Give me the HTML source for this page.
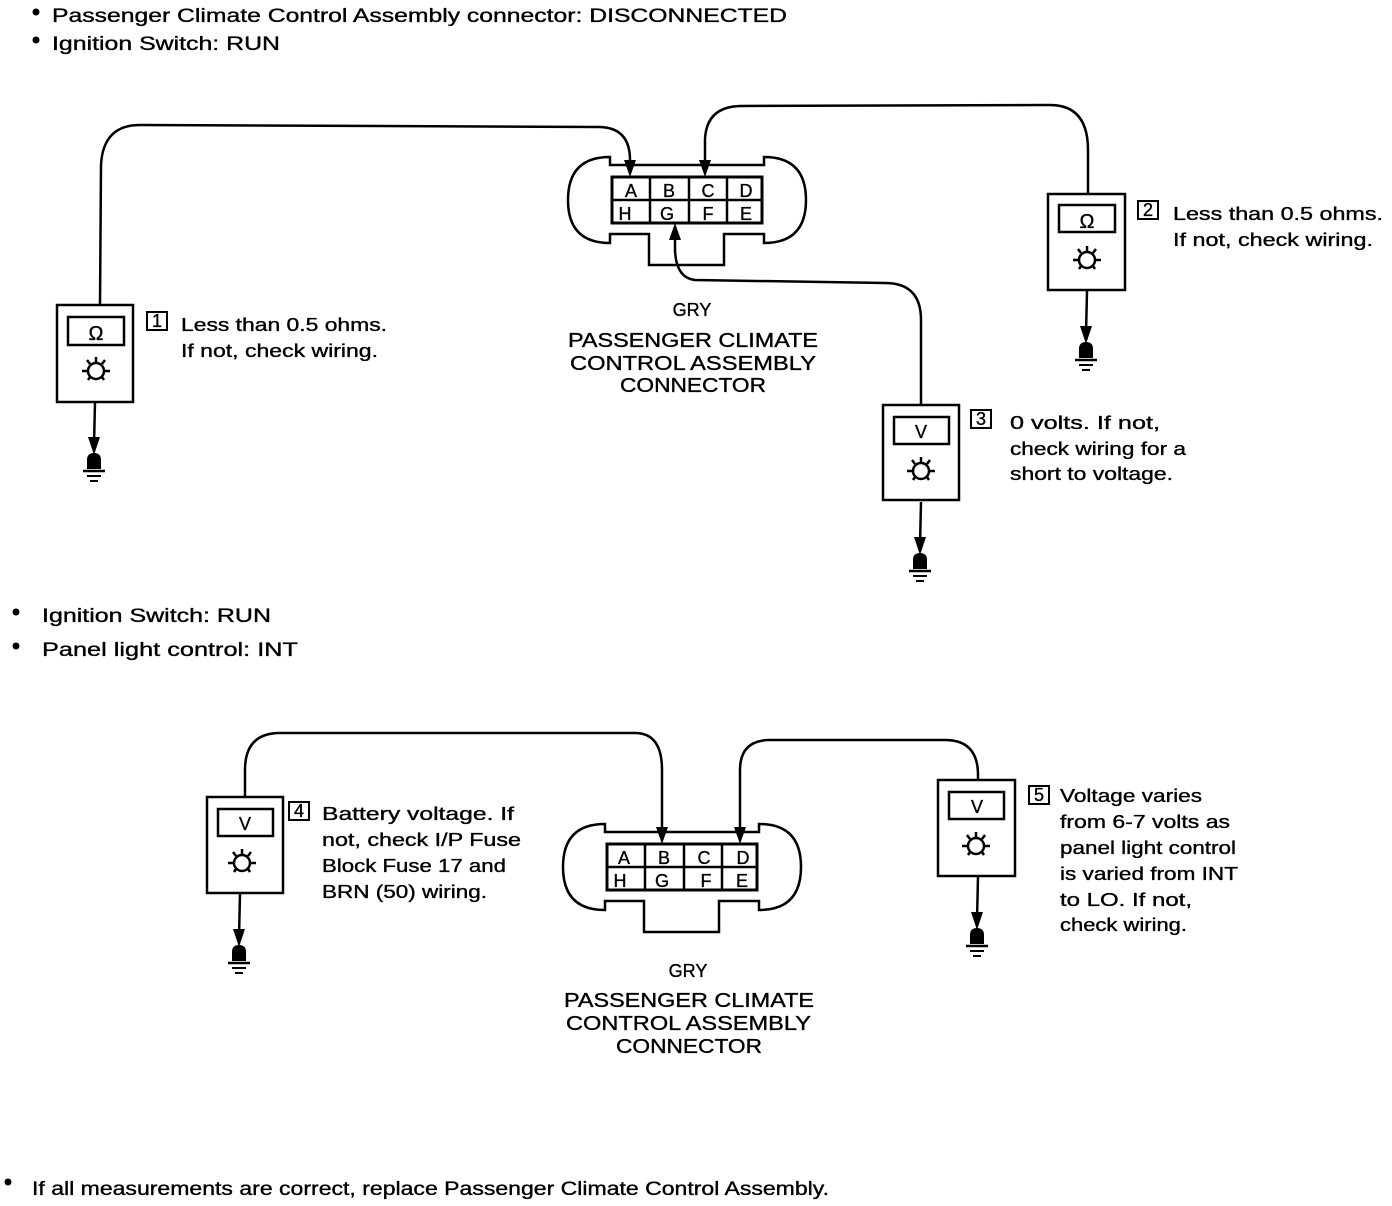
<!DOCTYPE html>
<html><head><meta charset="utf-8"><style>
html,body{margin:0;padding:0;background:#fff;}
svg{display:block;}
text{font-family:"Liberation Sans",sans-serif;font-size:18px;fill:#000;stroke:#000;stroke-width:0.35;}
</style></head><body>
<svg width="1392" height="1206" viewBox="0 0 1392 1206" xmlns="http://www.w3.org/2000/svg">
<defs>
<g id="bulb" fill="none" stroke="#000" stroke-width="2.5">
<circle cx="38" cy="66" r="8"/>
<line x1="24" y1="66" x2="30" y2="66"/><line x1="46" y1="66" x2="52" y2="66"/>
<line x1="38" y1="52" x2="38" y2="57"/><line x1="29" y1="55" x2="32" y2="59"/><line x1="47" y1="55" x2="44" y2="59"/>
<line x1="30" y1="75" x2="32" y2="72"/><line x1="46" y1="75" x2="44" y2="72"/>
</g>
<g id="gnd">
<line x1="38" y1="97" x2="37" y2="140" stroke="#000" stroke-width="2.5"/>
<path d="M31 132 L43 132 L37 150 Z" fill="#000"/>
<path d="M30 164 L30 155 Q30 148 37 148 Q44 148 44 155 L44 164 Z" fill="#000"/>
<line x1="26" y1="166" x2="48" y2="166" stroke="#000" stroke-width="2.5"/>
<line x1="30" y1="171" x2="44" y2="171" stroke="#000" stroke-width="2"/>
<line x1="33" y1="176" x2="41" y2="176" stroke="#000" stroke-width="2"/>
</g>
<g id="conn" fill="none" stroke="#000" stroke-width="2.5">
<path d="M0 -12 L150 -12"/>
<path d="M0 -12 L-2 -12 L-2 -20 Q-44 -20 -44 23 Q-44 66 -2 66 L-2 57 L37 57 L37 88 L112 88 L112 57 L152 57 L152 66 Q194 66 194 23 Q194 -20 152 -20 L152 -12 L150 -12"/>
<rect x="0" y="0" width="150" height="46" stroke-width="3"/>
<line x1="0" y1="23" x2="150" y2="23"/>
<line x1="38" y1="0" x2="38" y2="46"/><line x1="77" y1="0" x2="77" y2="46"/><line x1="115" y1="0" x2="115" y2="46"/>
</g>
</defs>

<g lengthAdjust="spacingAndGlyphs">
<circle cx="36" cy="12" r="3.5"/><text x="52" y="22" textLength="735" lengthAdjust="spacingAndGlyphs" style="font-size:19px">Passenger Climate Control Assembly connector: DISCONNECTED</text>
<circle cx="36" cy="40" r="3.5"/><text x="52" y="50" textLength="228" lengthAdjust="spacingAndGlyphs" style="font-size:19px">Ignition Switch: RUN</text>
<circle cx="16" cy="612" r="3.5"/><text x="42" y="622" textLength="229" lengthAdjust="spacingAndGlyphs" style="font-size:19px">Ignition Switch: RUN</text>
<circle cx="16" cy="646" r="3.5"/><text x="42" y="656" textLength="256" lengthAdjust="spacingAndGlyphs" style="font-size:19px">Panel light control: INT</text>
<circle cx="8" cy="1182" r="3.5"/><text x="32" y="1195" textLength="797" lengthAdjust="spacingAndGlyphs" style="font-size:19px">If all measurements are correct, replace Passenger Climate Control Assembly.</text>
</g>

<g transform="translate(612,177)"><use href="#conn"/></g>
<g text-anchor="middle">
<text x="631" y="197" font-size="15">A</text><text x="669" y="197" font-size="15">B</text><text x="708" y="197" font-size="15">C</text><text x="746" y="197" font-size="15">D</text>
<text x="625" y="220" font-size="15">H</text><text x="667" y="220" font-size="15">G</text><text x="708" y="220" font-size="15">F</text><text x="746" y="220" font-size="15">E</text>
</g>
<text x="692" y="316" font-size="14" text-anchor="middle">GRY</text>
<text x="568" y="347" textLength="250" lengthAdjust="spacingAndGlyphs" style="font-size:20px">PASSENGER CLIMATE</text>
<text x="570" y="370" textLength="246" lengthAdjust="spacingAndGlyphs" style="font-size:20px">CONTROL ASSEMBLY</text>
<text x="620" y="392" textLength="146" lengthAdjust="spacingAndGlyphs" style="font-size:20px">CONNECTOR</text>

<g transform="translate(607,844)"><use href="#conn"/></g>
<g text-anchor="middle">
<text x="624" y="864" font-size="15">A</text><text x="664" y="864" font-size="15">B</text><text x="704" y="864" font-size="15">C</text><text x="743" y="864" font-size="15">D</text>
<text x="620" y="887" font-size="15">H</text><text x="662" y="887" font-size="15">G</text><text x="706" y="887" font-size="15">F</text><text x="742" y="887" font-size="15">E</text>
</g>
<text x="688" y="977" font-size="14" text-anchor="middle">GRY</text>
<text x="564" y="1007" textLength="250" lengthAdjust="spacingAndGlyphs" style="font-size:20px">PASSENGER CLIMATE</text>
<text x="566" y="1030" textLength="245" lengthAdjust="spacingAndGlyphs" style="font-size:20px">CONTROL ASSEMBLY</text>
<text x="616" y="1053" textLength="146" lengthAdjust="spacingAndGlyphs" style="font-size:20px">CONNECTOR</text>

<g fill="none" stroke="#000" stroke-width="2.5">
<path d="M100 305 L101 165 Q103 125 140 125 L600 127 Q630 128 630 160 L630 165"/>
<path d="M1088 194 L1088 150 Q1088 105 1050 105 L740 106 Q706 107 705 140 L705 165"/>
<path d="M921 405 L921 320 Q921 283 885 283 L695 280 Q676 278 675 250 L675 235"/>
<path d="M245 797 L245 770 Q245 733 280 733 L635 733 Q662 733 662 770 L662 832"/>
<path d="M978 780 L978 775 Q978 740 945 740 L770 740 Q740 740 740 770 L740 832"/>
</g>
<g fill="#000">
<path d="M624 160 L636 160 L630 177 Z"/>
<path d="M699 160 L711 160 L705 177 Z"/>
<path d="M669 240 L681 240 L675 223 Z"/>
<path d="M656 827 L668 827 L662 844 Z"/>
<path d="M734 827 L746 827 L740 844 Z"/>
</g>

<g fill="none" stroke="#000" stroke-width="2.5">
<rect x="57" y="305" width="76" height="97"/><rect x="68" y="317" width="56" height="28"/>
<rect x="1048" y="194" width="77" height="96"/><rect x="1059" y="205" width="56" height="27"/>
<rect x="883" y="405" width="76" height="95"/><rect x="894" y="417" width="55" height="27"/>
<rect x="207" y="797" width="76" height="96"/><rect x="218" y="809" width="55" height="27"/>
<rect x="938" y="780" width="77" height="96"/><rect x="949" y="792" width="55" height="27"/>
</g>
<use href="#bulb" transform="translate(58,305)"/><use href="#gnd" transform="translate(57,305)"/>
<use href="#bulb" transform="translate(1049,194)"/><use href="#gnd" transform="translate(1049,194)"/>
<use href="#bulb" transform="translate(883,405)"/><use href="#gnd" transform="translate(883,405)"/>
<use href="#bulb" transform="translate(204,797)"/><use href="#gnd" transform="translate(202,797)"/>
<use href="#bulb" transform="translate(938,780)"/><use href="#gnd" transform="translate(940,780)"/>
<g text-anchor="middle">
<text x="96" y="340" style="font-size:20px">Ω</text>
<text x="1087" y="228" style="font-size:20px">Ω</text>
<text x="921" y="438" font-size="17">V</text>
<text x="245" y="830" font-size="17">V</text>
<text x="977" y="813" font-size="17">V</text>
</g>

<g fill="none" stroke="#000" stroke-width="2">
<rect x="147" y="312" width="20" height="18"/>
<rect x="1138" y="201" width="20" height="18"/>
<rect x="971" y="410" width="20" height="18"/>
<rect x="289" y="802" width="20" height="18"/>
<rect x="1029" y="786" width="20" height="18"/>
</g>
<g text-anchor="middle">
<text x="157" y="327" font-size="16">1</text>
<text x="1148" y="216" font-size="16">2</text>
<text x="981" y="425" font-size="16">3</text>
<text x="299" y="817" font-size="16">4</text>
<text x="1039" y="801" font-size="16">5</text>
</g>
<text x="181" y="331" textLength="206" lengthAdjust="spacingAndGlyphs">Less than 0.5 ohms.</text>
<text x="181" y="357" textLength="197" lengthAdjust="spacingAndGlyphs">If not, check wiring.</text>
<text x="1173" y="220" textLength="210" lengthAdjust="spacingAndGlyphs">Less than 0.5 ohms.</text>
<text x="1173" y="246" textLength="200" lengthAdjust="spacingAndGlyphs">If not, check wiring.</text>
<text x="1010" y="429" textLength="150" lengthAdjust="spacingAndGlyphs">0 volts.  If not,</text>
<text x="1010" y="455" textLength="176" lengthAdjust="spacingAndGlyphs">check wiring for a</text>
<text x="1010" y="480" textLength="163" lengthAdjust="spacingAndGlyphs">short to voltage.</text>
<text x="322" y="820" textLength="192" lengthAdjust="spacingAndGlyphs">Battery voltage.  If</text>
<text x="322" y="846" textLength="199" lengthAdjust="spacingAndGlyphs">not, check I/P Fuse</text>
<text x="322" y="872" textLength="184" lengthAdjust="spacingAndGlyphs">Block Fuse 17 and</text>
<text x="322" y="898" textLength="165" lengthAdjust="spacingAndGlyphs">BRN (50) wiring.</text>
<text x="1060" y="802" textLength="142" lengthAdjust="spacingAndGlyphs">Voltage varies</text>
<text x="1060" y="828" textLength="170" lengthAdjust="spacingAndGlyphs">from 6-7 volts as</text>
<text x="1060" y="854" textLength="176" lengthAdjust="spacingAndGlyphs">panel light control</text>
<text x="1060" y="880" textLength="178" lengthAdjust="spacingAndGlyphs">is varied from INT</text>
<text x="1060" y="906" textLength="132" lengthAdjust="spacingAndGlyphs">to LO. If not,</text>
<text x="1060" y="931" textLength="127" lengthAdjust="spacingAndGlyphs">check wiring.</text>
</svg>
</body></html>
